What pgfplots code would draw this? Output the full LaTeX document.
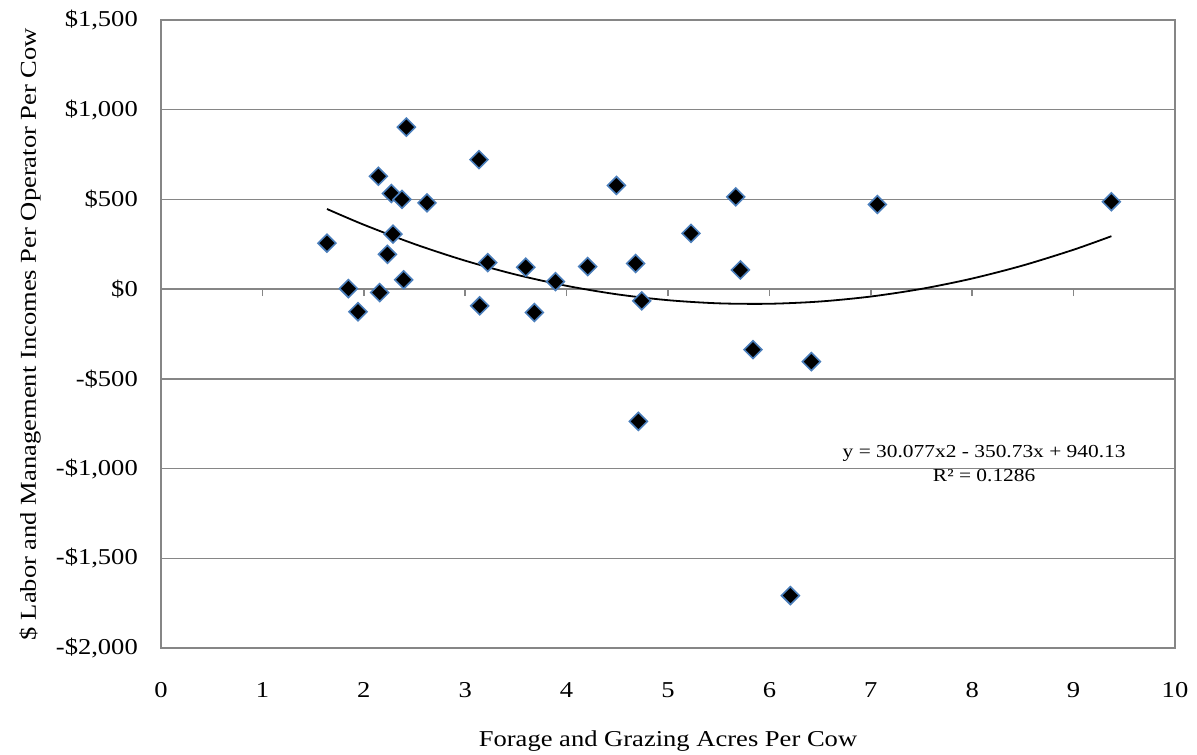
\documentclass[border=0pt]{standalone}
\usepackage{fontspec}
\setmainfont{Liberation Serif}[FakeStretch=1.17]
\usepackage{pgfplots}
\pgfplotsset{compat=1.18}
\usetikzlibrary{calc}
\definecolor{gridgray}{RGB}{134,134,134}
\definecolor{mkblue}{RGB}{74,126,187}

\pgfplotstableread{
x y
1.637 256
1.848 3
1.943 -126
2.144 629
2.157 -19
2.233 194
2.272 533
2.288 307
2.377 500
2.393 52
2.420 903
2.623 481
3.136 722
3.143 -93
3.222 148
3.597 122
3.682 -130
3.890 42
4.208 126
4.491 578
4.681 143
4.708 -737
4.741 -65
5.227 311
5.668 514
5.714 107
5.838 -337
6.207 -1708
6.414 -404
7.065 472
9.373 487
}\pts

\pgfplotstableread{
x y
1.637 446.6
2.0 359.0
2.5 251.3
3.0 158.6
3.5 81.0
4.0 18.4
4.5 -29.1
5.0 -61.6
5.5 -79.1
6.0 -81.5
6.5 -68.9
7.0 -41.2
7.5 1.5
8.0 59.2
8.5 132.0
9.0 219.8
9.373 295.1
}\trend

\begin{document}
\begin{tikzpicture}
\begin{axis}[name=ax, at={(0,0)}, anchor=south west,
  scale only axis, width=1014pt, height=628pt,
  xmin=0, xmax=10, ymin=-2000, ymax=1500,
  xtick={0,1,2,3,4,5,6,7,8,9,10},
  xticklabels={0,1,2,3,4,5,6,7,8,9,10},
  ytick={-2000,-1500,-1000,-500,0,500,1000,1500},
  yticklabels={{-\$2,000},{-\$1,500},{-\$1,000},{-\$500},{\$0},{\$500},{\$1,000},{\$1,500}},
  ymajorgrids,
  major grid style={gridgray, line width=1.5pt},
  axis line style={gridgray, line width=1.5pt},
  major tick length=0pt,
  font=\fontsize{22.7}{27}\selectfont,
  tick label style={inner sep=0pt},
  yticklabel style={anchor=east, xshift=-23pt},
  xticklabel style={anchor=base, yshift=-49pt},
  xlabel={Forage and Grazing Acres Per Cow},
  xlabel style={at={(axis description cs:0.5,-0.1576)}, anchor=base, inner sep=0pt},
  ylabel={\$ Labor and Management Incomes Per Operator Per Cow},
  ylabel style={at={(axis description cs:-0.1233,0.5)}, anchor=base, inner sep=0pt},
  clip=false,
]
\addplot[only marks, mark=square*, mark size=6.3pt,
  mark options={rotate=45, fill=black, draw=mkblue, line width=1.6pt}] table {\pts};
\addplot[black, line width=1.8pt, smooth, no markers] table {\trend};
\node[anchor=base, inner sep=0pt, font=\fontsize{18.3}{22}\selectfont] at (axis cs:8.118,-937) {y = 30.077x2 - 350.73x + 940.13};
\node[anchor=base, inner sep=0pt, font=\fontsize{18.3}{22}\selectfont] at (axis cs:8.118,-1071) {R² = 0.1286};
\end{axis}
\begin{axis}[at={(0,0)}, anchor=south west,
  scale only axis, width=1014pt, height=628pt,
  xmin=0, xmax=10, ymin=-2000, ymax=1500,
  axis x line=middle, axis y line=none,
  xtick={1,2,3,4,5,6,7,8,9}, xticklabels={},
  ytick=\empty,
  tick align=outside,
  major tick length=7pt,
  tick style={gridgray, line width=1.5pt},
  x axis line style={draw=none},
]
\end{axis}
\pgfresetboundingbox
\path[use as bounding box] ($(ax.south west)+(-161pt,-106pt)$) rectangle ($(ax.north east)+(22pt,20pt)$);
\end{tikzpicture}
\end{document}
